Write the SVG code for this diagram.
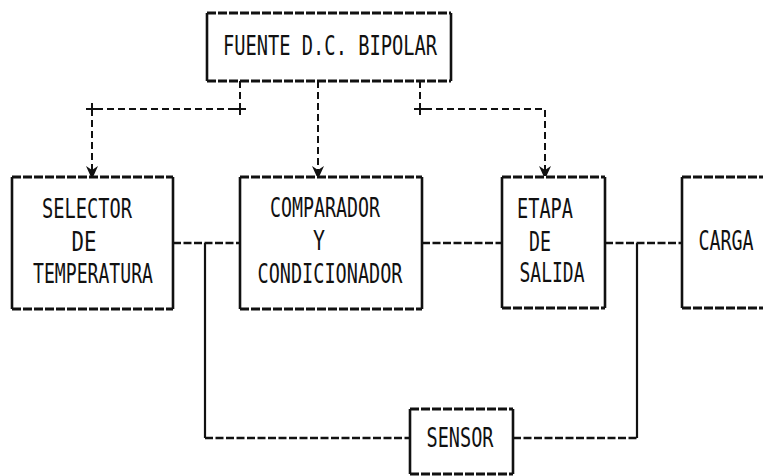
<svg xmlns="http://www.w3.org/2000/svg" width="763" height="476" viewBox="0 0 763 476">
<style>
.side{stroke:#111;stroke-width:2.6;fill:none}
.edge{stroke:#111;stroke-width:3;fill:none;stroke-dasharray:9 2}
.t{font-family:"DejaVu Sans Mono","Liberation Mono",monospace;font-size:27px;fill:#111;text-anchor:middle}
.sig{stroke:#111;stroke-width:2.6;fill:none;stroke-dasharray:8 2.5}
.solid{stroke:#111;stroke-width:2.2;fill:none}
.pwr{stroke:#111;stroke-width:2;fill:none;stroke-dasharray:7 4}
.tick{stroke:#111;stroke-width:2;fill:none}
</style>
<defs>
<marker id="ah" viewBox="0 0 12 12" refX="6" refY="12" markerWidth="12" markerHeight="12" markerUnits="userSpaceOnUse" orient="0">
<path d="M0,2 L6,6 L12,2 L7.5,12 L4.5,12 Z" fill="#111"/>
</marker>
</defs>
<rect width="763" height="476" fill="#fff"/>

<g id="connectors">
<path class="pwr" d="M240,81 V109 H92 V176" marker-end="url(#ah)"/>
<path class="pwr" d="M318,81 V176" marker-end="url(#ah)"/>
<path class="pwr" d="M420,81 V109 H545 V176" marker-end="url(#ah)"/>
<path class="tick" d="M240,103 V115 M92,103 V115 M420,103 V115 M86,109 H98 M234,109 H246 M414,109 H426"/>
<path class="sig" d="M173,243 H240"/>
<path class="sig" d="M422,243 H502"/>
<path class="sig" d="M605,243 H682"/>
<path class="solid" d="M205,243 V438"/>
<path class="sig" d="M205,438 H410"/>
<path class="solid" d="M637,243 V438"/>
<path class="sig" d="M513,438 H637"/>
</g>

<g id="fuente">
<path class="side" d="M207,13 V81 M451,13 V81"/>
<path class="edge" d="M207,13 H451 M207,81 H451"/>
<text class="t" x="330" y="55" textLength="214" lengthAdjust="spacingAndGlyphs">FUENTE D.C. BIPOLAR</text>
</g>

<g id="selector">
<path class="side" d="M12,177 V309 M173,177 V309"/>
<path class="edge" d="M12,177 H173 M12,309 H173"/>
<text class="t" x="87" y="218" textLength="90" lengthAdjust="spacingAndGlyphs">SELECTOR</text>
<text class="t" x="84" y="251" textLength="25" lengthAdjust="spacingAndGlyphs">DE</text>
<text class="t" x="93" y="283" textLength="120" lengthAdjust="spacingAndGlyphs">TEMPERATURA</text>
</g>

<g id="comparador">
<path class="side" d="M240,177 V309 M422,177 V309"/>
<path class="edge" d="M240,177 H422 M240,309 H422"/>
<text class="t" x="325" y="217" textLength="110" lengthAdjust="spacingAndGlyphs">COMPARADOR</text>
<text class="t" x="319" y="250" textLength="12" lengthAdjust="spacingAndGlyphs">Y</text>
<text class="t" x="330" y="283" textLength="145" lengthAdjust="spacingAndGlyphs">CONDICIONADOR</text>
</g>

<g id="etapa">
<path class="side" d="M502,177 V308 M605,177 V308"/>
<path class="edge" d="M502,177 H605 M502,308 H605"/>
<text class="t" x="545" y="218" textLength="56" lengthAdjust="spacingAndGlyphs">ETAPA</text>
<text class="t" x="540" y="251" textLength="22" lengthAdjust="spacingAndGlyphs">DE</text>
<text class="t" x="552" y="282" textLength="65" lengthAdjust="spacingAndGlyphs">SALIDA</text>
</g>

<g id="carga">
<path class="side" d="M682,177 V308"/>
<path class="edge" d="M682,177 H770 M682,308 H770"/>
<text class="t" transform="translate(726,250) scale(0.68,1)" x="0" y="0">CARGA</text>
</g>

<g id="sensor">
<path class="side" d="M410,409 V474 M513,409 V474"/>
<path class="edge" d="M410,409 H513 M410,474 H513"/>
<text class="t" x="460" y="447" textLength="67" lengthAdjust="spacingAndGlyphs">SENSOR</text>
</g>
</svg>
